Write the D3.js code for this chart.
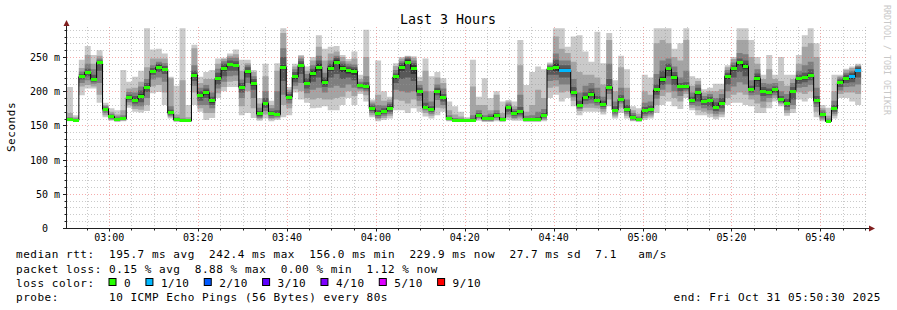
<!DOCTYPE html>
<html><head><meta charset="utf-8">
<script src="https://cdn.jsdelivr.net/npm/d3@7"></script>
<style>
body{margin:0;background:#fff}
svg{display:block}
text{font-family:"DejaVu Sans Mono",monospace;fill:#000}
</style>
</head><body>
<svg id="c" width="897" height="310"></svg>
<script>
// ---------- DATA ----------
const title = "Last 3 Hours";
const yAxisTitle = "Seconds";
const startTime = "2025-10-31T02:50:30";
const endTime = "2025-10-31T05:50:30";
const stepSeconds = 80;

// median rtt per 80 s step (ms)
const medians = [
158.9,157.4,221.2,227.6,217.8,241.7,174.0,162.8,158.9,159.8,
190.5,187.1,193.0,206.1,229.5,235.4,232.0,168.6,158.4,156.9,
156.9,223.7,193.5,197.9,185.7,218.8,233.4,239.3,237.8,205.7,
228.6,211.5,166.7,181.8,167.2,166.2,234.9,191.5,220.8,237.8,
212.0,226.1,235.4,213.0,233.9,242.4,232.9,230.0,228.6,208.1,
207.1,174.5,167.6,170.6,175.4,220.8,234.9,241.5,232.9,199.3,
175.9,173.0,200.3,190.1,159.8,157.4,157.4,157.4,157.4,165.2,
159.4,160.8,165.2,158.4,175.9,167.2,170.6,158.9,158.4,158.4,
164.2,232.9,235.4,230.5,230.5,197.9,179.3,191.0,195.9,185.7,
180.8,206.1,172.5,188.1,174.0,161.8,158.9,171.5,173.5,201.8,
217.8,232.5,220.3,206.6,206.6,186.6,197.4,184.7,186.6,176.9,
182.7,221.7,232.5,241.7,235.9,202.7,218.8,200.3,198.3,201.8,
187.6,182.7,199.8,218.3,219.8,223.2,186.2,165.7,156.0,175.0,
212.5,218.8,220.8,229.9];

// lost pings (of 10) per step
const lossCount = [
0,0,0,0,0,0,0,0,0,0, 0,0,0,0,0,0,0,0,0,0, 0,0,0,0,0,0,0,0,0,0,
0,0,0,0,0,0,0,0,0,0, 0,0,0,0,0,0,0,0,0,0, 0,0,0,0,0,0,0,0,0,0,
0,0,0,0,0,0,0,0,0,0, 0,0,0,0,0,0,0,0,0,0, 0,0,0,1,1,0,0,0,0,0,
0,0,0,0,0,0,0,0,0,0, 0,0,0,0,0,0,0,0,0,0, 0,0,0,0,0,0,0,0,0,0,
0,0,0,0,0,0,0,0,0,0, 0,0,1,1];

// the 10 sorted ping rtts per step (ms) -> smoke
const pings = [
[156,157,157,158,158,159,160,162,168,206],
[155,156,156,157,157,158,159,160,162,165],
[194,207,212,217,220,222,225,229,234,246],
[204,209,216,222,226,229,233,240,253,266],
[204,207,211,214,216,219,224,232,240,253],
[183,195,212,230,240,243,245,248,252,260],
[162,165,168,171,173,175,176,178,180,183],
[157,158,159,161,162,163,165,167,170,175],
[155,156,157,158,158,159,161,163,166,172],
[156,157,158,159,159,160,162,165,172,231],
[176,180,184,187,189,192,195,199,204,214],
[170,174,178,182,185,189,193,198,205,221],
[169,173,178,184,190,196,201,207,214,230],
[171,180,190,199,204,208,212,218,235,292],
[197,207,217,224,228,231,234,238,248,261],
[199,209,220,228,233,238,240,243,248,262],
[180,198,214,225,230,234,237,241,248,255],
[160,162,164,166,167,170,173,178,219,221],
[155,156,157,157,158,159,160,162,166,208],
[155,155,156,156,157,157,158,160,216,292],
[155,155,156,156,157,157,158,159,162,180],
[180,198,208,215,221,226,230,238,263,268],
[170,175,180,186,191,196,200,205,212,221],
[158,168,180,190,195,201,204,209,218,228],
[161,168,175,180,183,188,192,198,218,231],
[190,197,204,210,216,221,227,233,240,248],
[200,206,214,222,230,236,240,244,247,249],
[206,214,222,230,237,241,245,249,252,255],
[206,215,223,230,236,240,244,249,254,261],
[165,178,190,198,203,208,212,217,230,246],
[168,200,212,220,226,231,235,238,241,246],
[161,175,190,202,208,214,218,222,228,231],
[157,159,161,163,165,168,171,176,182,190],
[160,166,171,176,180,184,190,200,222,240],
[156,159,161,164,166,168,171,175,180,186],
[158,160,162,164,165,167,172,200,230,241],
[162,180,195,215,232,238,250,263,285,292],
[165,175,182,187,190,193,196,199,202,206],
[198,203,208,213,218,223,228,232,236,240],
[188,200,212,225,235,240,244,248,251,253],
[183,190,197,204,210,214,219,225,230,236],
[175,188,202,214,222,230,233,238,245,250],
[176,190,205,220,230,240,245,252,265,282],
[178,188,198,206,210,216,220,227,245,262],
[172,188,205,220,230,237,240,245,255,265],
[172,190,208,225,240,246,249,252,258,266],
[180,192,205,218,228,237,240,244,250,253],
[190,200,210,220,226,233,236,240,244,247],
[180,193,205,216,224,232,235,239,248,258],
[196,200,203,205,207,209,211,214,218,224],
[185,194,200,203,205,209,213,222,250,290],
[162,165,168,171,173,176,179,182,185,188],
[156,159,161,164,166,169,172,180,195,245],
[158,161,164,167,169,172,175,179,186,200],
[160,164,167,170,173,178,181,184,188,192],
[172,188,202,212,218,223,226,231,237,241],
[172,186,200,218,230,238,241,244,248,250],
[168,182,198,220,240,246,248,250,251,252],
[175,188,200,215,225,238,241,245,249,251],
[170,178,186,193,198,201,205,209,215,221],
[163,168,172,175,175,177,183,200,230,248],
[160,164,167,170,172,174,178,185,200,222],
[165,176,187,194,198,202,205,210,220,228],
[170,175,180,185,189,191,196,204,212,219],
[156,157,158,159,159,160,162,165,172,185],
[155,156,156,157,157,158,159,161,166,178],
[155,156,156,157,157,158,159,160,163,170],
[155,156,156,157,157,158,158,159,160,162],
[155,156,156,157,157,158,160,165,207,246],
[157,159,161,163,164,166,168,172,180,192],
[155,156,157,158,159,160,162,165,180,219],
[155,156,157,158,160,162,164,167,172,190],
[156,158,161,163,164,166,168,172,195,200],
[155,156,157,157,158,159,160,162,168,185],
[158,162,166,170,174,178,180,182,185,187],
[157,159,161,164,166,168,171,174,178,185],
[157,160,163,166,169,172,177,195,238,275],
[155,156,157,158,158,159,161,164,170,209],
[155,156,157,157,158,159,161,165,180,228],
[155,156,157,157,158,159,162,170,202,236],
[156,158,160,162,163,165,168,174,190,232],
[190,205,215,224,231,234,236,238,240,242],
[195,207,216,224,230,240,246,255,280,292],
[185,198,210,220,228,233,238,245,262,292],
[190,200,210,220,228,233,238,245,256,265],
[178,186,191,194,196,200,206,218,243,280],
[165,171,174,176,178,181,186,198,228,282],
[170,176,181,186,190,192,198,208,224,258],
[170,176,182,188,194,198,204,212,224,243],
[170,175,179,183,185,187,193,205,220,287],
[166,170,174,177,180,182,186,192,210,241],
[178,188,196,201,205,208,218,240,275,285],
[160,163,166,169,171,174,178,185,200,216],
[168,176,182,185,187,190,194,205,235,252],
[160,164,167,170,173,176,180,188,205,232],
[156,157,158,160,161,163,165,168,172,178],
[155,156,157,158,158,159,161,163,167,175],
[158,161,164,167,170,173,177,183,200,224],
[160,163,166,169,172,175,179,185,195,220],
[168,180,189,195,199,204,210,225,270,292],
[180,193,202,209,214,221,230,245,275,292],
[185,198,210,222,230,235,240,248,270,292],
[178,190,200,209,217,223,228,236,250,262],
[174,185,193,200,205,208,212,220,245,270],
[190,196,200,203,205,208,213,230,275,292],
[172,176,180,183,186,188,192,198,208,222],
[165,172,178,185,195,200,205,210,215,219],
[165,170,175,180,183,186,189,193,198,203],
[162,167,172,178,185,188,192,196,200,205],
[159,163,167,171,175,179,184,190,200,211],
[162,166,170,175,181,185,190,196,203,211],
[180,190,200,210,218,224,227,231,235,238],
[183,195,207,220,230,235,238,242,247,250],
[183,198,213,228,238,244,248,256,275,292],
[180,195,210,222,232,240,245,254,275,292],
[178,188,194,198,201,204,208,216,250,275],
[168,182,195,206,215,222,226,232,240,250],
[168,176,185,193,199,202,206,212,218,224],
[175,184,190,194,197,200,204,211,232,253],
[185,190,194,198,200,203,207,212,218,224],
[178,181,183,185,187,189,193,200,215,250],
[164,168,172,177,181,184,189,196,208,224],
[168,174,180,188,198,201,206,212,218,224],
[188,198,205,211,216,220,224,230,240,253],
[185,196,206,213,217,222,227,238,265,282],
[190,200,209,216,221,226,232,243,270,292],
[162,170,177,182,185,188,193,205,250,270],
[156,158,160,163,165,167,169,172,175,180],
[155,155,155,156,156,157,158,160,164,176],
[160,164,167,170,174,176,180,186,200,224],
[190,196,201,206,211,214,217,220,222,224],
[190,198,206,212,216,221,224,227,231,233],
[185,198,207,213,218,224,227,230,234,236],
[180,196,210,220,228,233,235,237,238,240]];

const xTickLabels = ["03:00","03:20","03:40","04:00","04:20","04:40","05:00","05:20","05:40"];
const yTickValues = [0,50,100,150,200,250];
const yTickLabels = ["0  ","50 m","100 m","150 m","200 m","250 m"];
const lossLabels = ["0","1/10","2/10","3/10","4/10","5/10","9/10"];
const lossColors = ["#26ff00","#00b8ff","#0059ff","#5e00ff","#7e00ff","#dd00ff","#ff0000"];
const smokeGrays = ["#cacaca","#a4a4a4","#7e7e7e","#585858","#323232"];
const statsLine1 = "median rtt:  195.7 ms avg  242.4 ms max  156.0 ms min  229.9 ms now  27.7 ms sd  7.1   am/s";
const statsLine2 = "packet loss: 0.15 % avg  8.88 % max  0.00 % min  1.12 % now";
const lossHeader = "loss color:";
const probeLine = "probe:       10 ICMP Echo Pings (56 Bytes) every 80s";
const endLine = "end: Fri Oct 31 05:50:30 2025";
const watermark = "RRDTOOL / TOBI OETIKER";

// ---------- CHART ----------
const svg = d3.select("#c");
svg.append("rect").attr("width",897).attr("height",310).attr("fill","#fff");

const t0 = new Date(startTime), t1 = new Date(endTime);
const X0 = 67, X1 = 867, Y0 = 228, Ytop = 27;
const x = d3.scaleTime().domain([t0,t1]).range([X0,X1]);
const y = d3.scaleLinear().domain([0,293.9]).range([Y0,Ytop]);
const tAt = i => new Date(t0.getTime() + i*stepSeconds*1000);

// smoke
const pts = pings.map((p,i)=>({i,p}));
pts.push({i:pings.length, p:pings[pings.length-1]});
smokeGrays.forEach((g,l)=>{
  const area = d3.area()
    .x(d=>x(tAt(d.i)))
    .y0(d=>y(d.p[l]))
    .y1(d=>y(d.p[9-l]))
    .curve(d3.curveStepAfter);
  svg.append("path").attr("d",area(pts)).attr("fill",g);
});

// grid
const MINOR = "rgba(150,150,150,0.5)", MAJOR = "rgba(235,90,90,0.5)";
const grid = svg.append("g").attr("shape-rendering","crispEdges");
const minorT = d3.timeMinute.every(5).range(t0,t1);
minorT.forEach(t=>{
  const major = t.getMinutes()%20===0;
  const xx = Math.round(x(t))+0.5;
  grid.append("line").attr("x1",xx).attr("x2",xx).attr("y1",Ytop).attr("y2",Y0)
    .attr("stroke", major ? MAJOR : MINOR)
    .attr("stroke-dasharray","1,2");
});
d3.range(10,294,10).forEach(v=>{
  const major = v%50===0;
  const yy = Math.round(y(v))+0.5;
  grid.append("line").attr("x1",X0).attr("x2",X1+1).attr("y1",yy).attr("y2",yy)
    .attr("stroke", major ? MAJOR : MINOR)
    .attr("stroke-dasharray","1,2");
});

// median line
const mpts = medians.map((m,i)=>({i,m}));
mpts.push({i:medians.length, m:medians[medians.length-1]});
svg.append("path")
  .attr("d", d3.line().x(d=>x(tAt(d.i))).y(d=>y(d.m)).curve(d3.curveStepAfter)(mpts))
  .attr("fill","none").attr("stroke","#000").attr("stroke-width",1);

// loss-coloured median bands
svg.append("g").selectAll("rect").data(medians).join("rect")
  .attr("x",(d,i)=>x(tAt(i)))
  .attr("width",(d,i)=>x(tAt(i+1))-x(tAt(i)))
  .attr("y",d=>y(d)-1.5).attr("height",3)
  .attr("fill",(d,i)=>lossColors[lossCount[i]])
  .attr("shape-rendering","crispEdges");

// axes
const ax = svg.append("g").attr("stroke","#1f1f1f");
ax.append("line").attr("x1",X0-0.5).attr("x2",X0-0.5).attr("y1",Y0+0.5).attr("y2",22);
ax.append("line").attr("x1",X0-4).attr("x2",871).attr("y1",Y0+0.5).attr("y2",Y0+0.5);
svg.append("path").attr("d",`M${X0-3.5},26L${X0-0.5},20L${X0+2.5},26Z`).attr("fill","#801f1f");
svg.append("path").attr("d",`M869,225.5L875,228.5L869,231.5Z`).attr("fill","#801f1f");

// y ticks
yTickValues.forEach((v,i)=>{
  const yy = Math.round(y(v))+0.5;
  ax.append("line").attr("x1",X0-4).attr("x2",X0-0.5).attr("y1",yy).attr("y2",yy);
  svg.append("text").attr("x",60).attr("y",yy+3.5).attr("text-anchor","end")
    .attr("xml:space","preserve").style("font-size","10px").text(yTickLabels[i]);
});
d3.range(10,294,10).filter(v=>v%50).forEach(v=>{
  const yy = Math.round(y(v))+0.5;
  ax.append("line").attr("x1",X0-2.5).attr("x2",X0-0.5).attr("y1",yy).attr("y2",yy);
});
// x ticks
minorT.forEach(t=>{
  const major = t.getMinutes()%20===0;
  const xx = Math.round(x(t))+0.5;
  ax.append("line").attr("x1",xx).attr("x2",xx).attr("y1",Y0+0.5).attr("y2",Y0+(major?3.5:2.5));
});
xTickLabels.forEach(lab=>{
  const [h,m] = lab.split(":").map(Number);
  const t = new Date(t0); t.setHours(h,m,0,0);
  svg.append("text").attr("x",x(t)).attr("y",241).attr("text-anchor","middle")
    .style("font-size","10px").text(lab);
});

// titles
svg.append("text").attr("x",448).attr("y",24).attr("text-anchor","middle")
  .style("font-size","13.3px").text(title);
svg.append("text").attr("transform","translate(15,127) rotate(-90)").attr("text-anchor","middle")
  .style("font-size","11px").style("letter-spacing","0.53px").text(yAxisTitle);
svg.append("text").attr("transform","translate(884,5) rotate(90)")
  .style("font-size","8.3px").style("fill","#c8c8c8").text(watermark);

// legend
const lg = (txt,yy,xx=16,anchor="start")=>svg.append("text").attr("x",xx).attr("y",yy)
  .attr("text-anchor",anchor).attr("xml:space","preserve")
  .style("font-size","11px").style("letter-spacing","0.53px").text(txt);
lg(statsLine1,258);
lg(statsLine2,272.5);
lg(lossHeader,286.5);
lg(probeLine,301);
lg(endLine,301,881,"end");
let lx = 108.5;
lossLabels.forEach((lab,i)=>{
  svg.append("rect").attr("x",lx+0.5).attr("y",278.5).attr("width",7).attr("height",7)
    .attr("fill",lossColors[i]).attr("stroke","#000").attr("stroke-width",1);
  lg(lab,286.5,lx+15.5);
  lx = lx + 15.5 + (lab.length+2)*7.14;
});
</script>
</body></html>
